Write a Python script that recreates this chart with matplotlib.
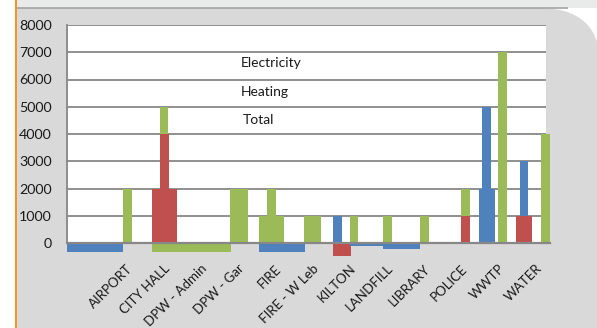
import matplotlib
matplotlib.use("Agg")
import matplotlib.pyplot as plt
from matplotlib.path import Path
from matplotlib.patches import PathPatch, Rectangle
import matplotlib.transforms as mtransforms

plt.rcParams['font.family'] = ['Lato', 'DejaVu Sans']

# ---- data -------------------------------------------------------------
categories = ["AIRPORT", "CITY HALL", "DPW - Admin", "DPW - Gar", "FIRE",
              "FIRE - W Leb", "KILTON", "LANDFILL", "LIBRARY", "POLICE",
              "WWTP", "WATER"]
series_names = ["Electricity", "Heating", "Total"]
y_ticks = [0, 1000, 2000, 3000, 4000, 5000, 6000, 7000, 8000]

# one entry per drawn bar: series, base value, top value
bar_series = ["Electricity", "Total", "Heating", "Heating", "Total", "Total",
              "Total", "Total", "Total", "Electricity", "Total",
              "Electricity", "Heating", "Total", "Electricity", "Total",
              "Electricity", "Total", "Heating", "Total", "Electricity",
              "Electricity", "Total", "Electricity", "Heating", "Total"]
bar_base = [0, 0, 0, 0, 4000, 0,
            0, 0, 0, 0, 0,
            0, 0, 0, 0, 0,
            0, 0, 0, 1000, 0,
            0, 0, 0, 0, 0]
bar_top = [-340, 2000, 2000, 4000, 5000, -340,
           2000, 1000, 2000, -340, 1000,
           1000, -470, 1000, -120, 1000,
           -230, 1000, 1000, 2000, 2000,
           5000, 7000, 3000, 1000, 4000]

# ---- layout (category units) -------------------------------------------
bar_left = [-1.5, 0.0, 0.79, 1.0, 1.0, 0.79,
            2.9, 3.67, 3.88, 3.67, 4.88,
            5.66, 5.66, 6.12, 6.12, 7.0,
            7.0, 8.0, 9.1, 9.1, 9.59,
            9.67, 10.1, 10.7, 10.59, 11.27]
bar_width = [1.5, 0.25, 0.67, 0.25, 0.23, 2.13,
             0.47, 0.67, 0.25, 1.23, 0.46,
             0.24, 0.48, 0.21, 0.88, 0.25,
             1.0, 0.25, 0.25, 0.25, 0.43,
             0.24, 0.24, 0.21, 0.43, 0.24]

colors = {"Electricity": "#4F81BD", "Heating": "#C0504D", "Total": "#9BBB59"}

W, H = 597, 328
fig = plt.figure(figsize=(W / 100, H / 100), dpi=100)
fig.patch.set_facecolor("white")

# ---- background panel ---------------------------------------------------
bg = fig.add_axes([0, 0, 1, 1], zorder=-5)
bg.set_xlim(0, W)
bg.set_ylim(H, 0)
bg.axis("off")
bg.add_patch(Rectangle((17, 0), W - 17, 8, facecolor="#E9EBEA", edgecolor="none"))
r = 32
x0, y0, x1, y1 = 17, 8, W + 2, H + 2
verts = [(x0, y1), (x0, y0), (x1 - r - 27, y0),
         (x1 - 12, y0), (x1 - 2, y0 + r - 4),
         (x1, y0 + r + 10), (x1, y1), (x0, y1)]
codes = [Path.MOVETO, Path.LINETO, Path.LINETO,
         Path.CURVE4, Path.CURVE4, Path.CURVE4, Path.LINETO, Path.CLOSEPOLY]
bg.add_patch(PathPatch(Path(verts, codes), facecolor="#D9D9D9", edgecolor="none"))
bg.plot([17, 568], [7.5, 7.5], color="#A3A3A3", lw=1.2, solid_capstyle="butt")
bg.add_patch(Rectangle((14.5, 0), 2.6, H, facecolor="#F7941D", edgecolor="none"))

# ---- chart --------------------------------------------------------------
left, right, top, bottom = 67, 546, 25, 243
ax = fig.add_axes([left / W, 1 - bottom / H, (right - left) / W, (bottom - top) / H])
ax.set_facecolor("white")
ax.set_xlim(-1.5, 11.4)
ax.set_ylim(0, 8000)

for s, b, t, l, w in zip(bar_series, bar_base, bar_top, bar_left, bar_width):
    ax.bar(l, t - b, bottom=b, width=w, align="edge", color=colors[s],
           edgecolor="none", clip_on=False, zorder=3)

ax.set_yticks(y_ticks)
ax.set_yticklabels([str(v) for v in y_ticks], fontsize=10.3, color="#1A1A1A")
ax.yaxis.grid(True, color="#878787", lw=1.3, zorder=1)
ax.tick_params(axis="y", length=0, pad=11)
ax.set_axisbelow(True)

ax.set_xticks(range(len(categories)))
ax.set_xticklabels(categories, rotation=45, ha="right", va="top",
                   rotation_mode="anchor", fontsize=9.5, color="#1A1A1A")
ax.tick_params(axis="x", length=0, pad=14)
offset = mtransforms.ScaledTranslation(4 / 100, 0, fig.dpi_scale_trans)
for lab in ax.get_xticklabels():
    lab.set_transform(lab.get_transform() + offset)

for side in ["top", "right"]:
    ax.spines[side].set_visible(False)
ax.spines["left"].set_color("#878787")
ax.spines["left"].set_linewidth(1.3)
ax.spines["bottom"].set_color("#878787")
ax.spines["bottom"].set_linewidth(1.6)
ax.spines["bottom"].set_zorder(4)
ax.plot([11.4, 11.5], [0, 0], color="#878787", lw=1.6, clip_on=False, zorder=4)

# series names block
for name, yv, dx in zip(series_names, [6620, 5550, 4510], [3.18, 3.18, 3.22]):
    ax.text(dx, yv, name, fontsize=10, color="#1A1A1A", va="center", ha="left", zorder=5)

fig.savefig("out.png", dpi=100, facecolor=fig.get_facecolor())
